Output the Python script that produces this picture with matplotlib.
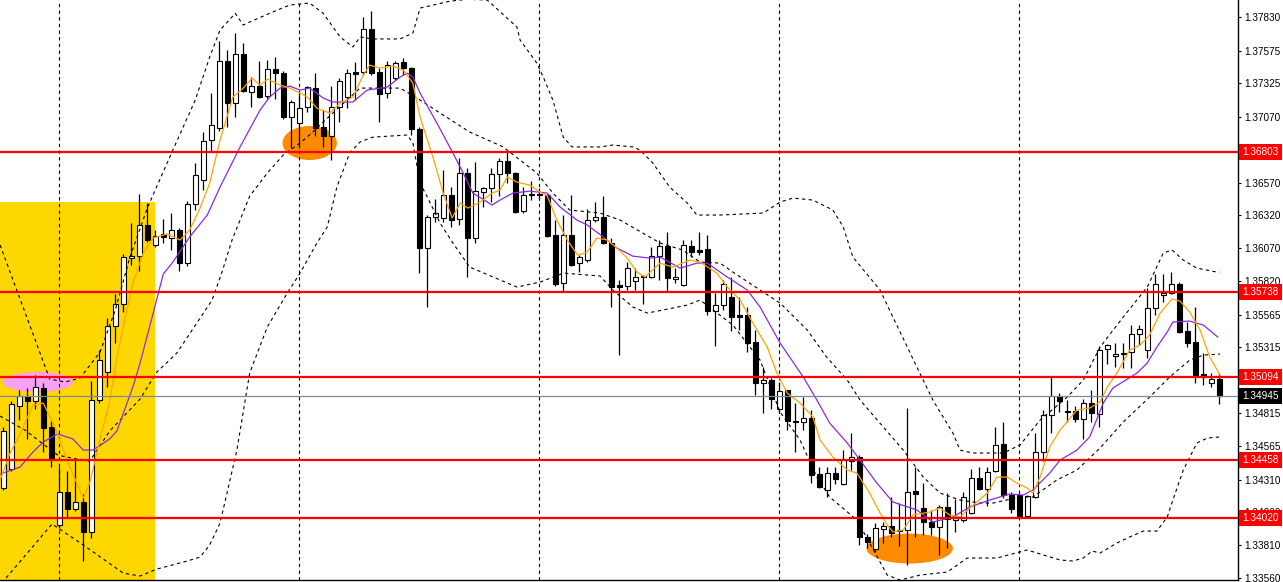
import matplotlib.pyplot as plt
from matplotlib.patches import Rectangle, Ellipse
import numpy as np

plt.rcParams['font.family'] = ['Liberation Sans', 'DejaVu Sans']

# candles (one per bar, oldest first)
opens = [1.34245, 1.34390, 1.34869, 1.34945, 1.34907, 1.35006, 1.34710, 1.33964, 1.34215, 1.34086,
         1.34139, 1.33911, 1.34915, 1.35128, 1.35478, 1.35646, 1.35995, 1.36010, 1.36247, 1.36095,
         1.36179, 1.36148, 1.36209, 1.35957, 1.36407, 1.36589, 1.36894, 1.36985, 1.37494, 1.37175,
         1.37548, 1.37259, 1.37304, 1.37228, 1.37434, 1.37403, 1.37069, 1.37023, 1.37145, 1.37289,
         1.36993, 1.36924, 1.37145, 1.37221, 1.37411, 1.37411, 1.37739, 1.37411, 1.37251, 1.37365,
         1.37487, 1.37441, 1.36977, 1.36072, 1.36308, 1.36301, 1.36475, 1.36293, 1.36642, 1.36148,
         1.36498, 1.36528, 1.36635, 1.36734, 1.36642, 1.36353, 1.36475, 1.36483, 1.36475, 1.36171,
         1.35805, 1.36171, 1.35957, 1.35980, 1.36285, 1.36308, 1.36110, 1.35790, 1.35782, 1.35820,
         1.35859, 1.35851, 1.36010, 1.36087, 1.35836, 1.35790, 1.36087, 1.36057, 1.36065, 1.35592,
         1.35638, 1.35699, 1.35562, 1.35562, 1.35357, 1.35044, 1.35067, 1.34846, 1.34991, 1.34755,
         1.34748, 1.34778, 1.34352, 1.34230, 1.34359, 1.34275, 1.34450, 1.34481, 1.33873, 1.33781,
         1.33934, 1.33957, 1.33918, 1.33926, 1.34222, 1.34093, 1.33987, 1.33949, 1.34101, 1.34002,
         1.34002, 1.34055, 1.34322, 1.34238, 1.34374, 1.34581, 1.34192, 1.34192, 1.34032, 1.34177,
         1.34519, 1.34801, 1.34945, 1.34831, 1.34831, 1.34770, 1.34892, 1.34808, 1.35303, 1.35250,
         1.35273, 1.35280, 1.35417, 1.35295, 1.35615, 1.35714, 1.35729, 1.35797, 1.35440, 1.35357,
         1.35113, 1.35044, 1.35075]
highs = [1.34710, 1.34907, 1.34991, 1.35006, 1.35105, 1.35044, 1.34755, 1.34405, 1.34374, 1.34473,
         1.34200, 1.35059, 1.35295, 1.35539, 1.35722, 1.36026, 1.36262, 1.36483, 1.36414, 1.36209,
         1.36293, 1.36338, 1.36224, 1.36429, 1.36718, 1.36955, 1.37251, 1.37647, 1.37578, 1.37708,
         1.37632, 1.37373, 1.37494, 1.37502, 1.37525, 1.37418, 1.37198, 1.37251, 1.37304, 1.37403,
         1.37122, 1.37304, 1.37365, 1.37434, 1.37487, 1.37830, 1.37875, 1.37441, 1.37494, 1.37494,
         1.37518, 1.37449, 1.36993, 1.36323, 1.36445, 1.36666, 1.36536, 1.36756, 1.36681, 1.36726,
         1.36536, 1.36681, 1.36756, 1.36802, 1.36650, 1.36536, 1.36582, 1.36528, 1.36483, 1.36285,
         1.36323, 1.36475, 1.36018, 1.36369, 1.36422, 1.36467, 1.36148, 1.35828, 1.35965, 1.35919,
         1.35866, 1.36080, 1.36133, 1.36194, 1.35919, 1.36133, 1.36133, 1.36194, 1.36171, 1.35729,
         1.35828, 1.35851, 1.35699, 1.35623, 1.35448, 1.35166, 1.35083, 1.35052, 1.34995, 1.34892,
         1.34938, 1.34839, 1.34405, 1.34405, 1.34405, 1.34534, 1.34664, 1.34496, 1.33896, 1.33979,
         1.33987, 1.34177, 1.34131, 1.34854, 1.34405, 1.34283, 1.34078, 1.34116, 1.34207, 1.34162,
         1.34215, 1.34390, 1.34405, 1.34405, 1.34710, 1.34748, 1.34215, 1.34207, 1.34192, 1.34664,
         1.34839, 1.35090, 1.34968, 1.34915, 1.34869, 1.34923, 1.34991, 1.35326, 1.35341, 1.35349,
         1.35349, 1.35486, 1.35486, 1.35767, 1.35874, 1.35874, 1.35889, 1.35813, 1.35509, 1.35623,
         1.35273, 1.35120, 1.35120]
lows = [1.34230, 1.34374, 1.34763, 1.34619, 1.34846, 1.34519, 1.34405, 1.33941, 1.34025, 1.34070,
        1.33689, 1.33865, 1.34892, 1.35014, 1.35349, 1.35585, 1.35942, 1.35896, 1.36118, 1.36080,
        1.36110, 1.36057, 1.35896, 1.35934, 1.36361, 1.36513, 1.36802, 1.36962, 1.36993, 1.37069,
        1.37260, 1.37145, 1.37215, 1.37206, 1.37206, 1.37054, 1.36833, 1.36833, 1.37107, 1.36924,
        1.36841, 1.36742, 1.37031, 1.37137, 1.37198, 1.37388, 1.37388, 1.37031, 1.37213, 1.37350,
        1.37388, 1.36932, 1.35881, 1.35623, 1.36270, 1.36270, 1.36232, 1.36247, 1.35851, 1.36110,
        1.36384, 1.36422, 1.36467, 1.36566, 1.36338, 1.36338, 1.36437, 1.36437, 1.36156, 1.35782,
        1.35744, 1.35934, 1.35889, 1.35965, 1.36270, 1.36103, 1.35623, 1.35257, 1.35752, 1.35752,
        1.35646, 1.35845, 1.35828, 1.35744, 1.35805, 1.35782, 1.36003, 1.36018, 1.35562, 1.35326,
        1.35600, 1.35440, 1.35448, 1.35280, 1.34953, 1.34816, 1.34846, 1.34816, 1.34687, 1.34519,
        1.34687, 1.34283, 1.34245, 1.34177, 1.34275, 1.34268, 1.34382, 1.33812, 1.33789, 1.33759,
        1.33827, 1.33873, 1.33804, 1.33660, 1.33873, 1.33888, 1.33888, 1.33736, 1.33789, 1.33911,
        1.33987, 1.34048, 1.34230, 1.34109, 1.34367, 1.34169, 1.34055, 1.34017, 1.34025, 1.34169,
        1.34450, 1.34664, 1.34824, 1.34748, 1.34748, 1.34619, 1.34748, 1.34710, 1.35189, 1.35166,
        1.35158, 1.35158, 1.35334, 1.35235, 1.35562, 1.35661, 1.35722, 1.35425, 1.35318, 1.35044,
        1.35029, 1.35014, 1.34885]
closes = [1.34679, 1.34885, 1.34945, 1.34907, 1.35014, 1.34702, 1.34473, 1.34215, 1.34086, 1.34139,
          1.33911, 1.34915, 1.35219, 1.35478, 1.35646, 1.36003, 1.36010, 1.36247, 1.36133, 1.36163,
          1.36156, 1.36209, 1.35957, 1.36407, 1.36627, 1.36886, 1.37008, 1.37494, 1.37175, 1.37548,
          1.37266, 1.37304, 1.37221, 1.37434, 1.37403, 1.37069, 1.37183, 1.37137, 1.37297, 1.36985,
          1.36924, 1.37145, 1.37342, 1.37403, 1.37396, 1.37739, 1.37403, 1.37244, 1.37464, 1.37479,
          1.37441, 1.36977, 1.36072, 1.36308, 1.36338, 1.36475, 1.36285, 1.36642, 1.36148, 1.36505,
          1.36528, 1.36635, 1.36734, 1.36642, 1.36346, 1.36475, 1.36483, 1.36475, 1.36163, 1.35797,
          1.36171, 1.35942, 1.36003, 1.36285, 1.36308, 1.36110, 1.35775, 1.35775, 1.35919, 1.35851,
          1.35851, 1.36010, 1.36087, 1.35843, 1.35851, 1.36095, 1.36041, 1.36041, 1.35592, 1.35638,
          1.35797, 1.35547, 1.35547, 1.35349, 1.35044, 1.35067, 1.34923, 1.34983, 1.34755, 1.34748,
          1.34778, 1.34344, 1.34253, 1.34359, 1.34314, 1.34458, 1.34481, 1.33873, 1.33835, 1.33941,
          1.33957, 1.33903, 1.33926, 1.34215, 1.34200, 1.33987, 1.33949, 1.34101, 1.34010, 1.34017,
          1.34177, 1.34322, 1.34238, 1.34367, 1.34573, 1.34192, 1.34086, 1.34032, 1.34185, 1.34519,
          1.34801, 1.34945, 1.34907, 1.34824, 1.34770, 1.34892, 1.34816, 1.35295, 1.35334, 1.35265,
          1.35265, 1.35417, 1.35455, 1.35615, 1.35797, 1.35729, 1.35797, 1.35432, 1.35349, 1.35105,
          1.35090, 1.35075, 1.34945]

# Bollinger bands (bar position, price)
bb_upper_x = [-0.4, 2.7, 5.8, 7.7, 9.6, 12.1, 14.0, 15.8, 18.0, 21.2, 24.0, 25.8, 27.1, 29.0, 30.0,
              30.5, 33.3, 35.8, 38.3, 40.0, 42.1, 43.7, 44.6, 46.2, 49.6, 51.2, 52.1, 55.8, 58.0,
              60.5, 64.2, 64.6, 66.7, 67.5, 68.7, 70.0, 71.1, 74.6, 76.2, 78.7, 79.6, 81.2, 83.3,
              85.5, 86.7, 89.6, 95.0, 97.1, 98.7, 101.2, 103.7, 105.0, 106.2, 109.6, 111.2, 114.2,
              116.2, 118.7, 119.6, 121.2, 125.0, 127.1, 129.6, 133.0, 135.0, 137.1, 140.0, 143.0,
              145.0, 146.1, 147.5, 149.2, 151.7, 152.0]
bb_upper = [1.36095, 1.35585, 1.35075, 1.35052, 1.35083, 1.35280, 1.35600, 1.35995, 1.36376, 1.36818,
            1.37198, 1.37525, 1.37731, 1.37858, 1.37769, 1.37784, 1.37858, 1.37921, 1.37936, 1.37858,
            1.37678, 1.37602, 1.37678, 1.37663, 1.37663, 1.37708, 1.37898, 1.37950, 1.37965, 1.37959,
            1.37754, 1.37655, 1.37479, 1.37373, 1.37198, 1.36916, 1.36841, 1.36841, 1.36856, 1.36841,
            1.36818, 1.36718, 1.36536, 1.36414, 1.36323, 1.36323, 1.36338, 1.36422, 1.36452, 1.36437,
            1.36361, 1.36232, 1.36003, 1.35752, 1.35547, 1.35166, 1.34915, 1.34664, 1.34534, 1.34512,
            1.34512, 1.34573, 1.34763, 1.34938, 1.35067, 1.35318, 1.35547, 1.35775, 1.36034, 1.36057,
            1.35980, 1.35919, 1.35889, 1.35889]
bb_mid_x = [-0.4, 2.7, 6.8, 9.2, 10.8, 13.3, 17.1, 19.2, 21.7, 26.1, 27.3, 28.6, 30.8, 33.0, 35.0,
            37.1, 38.7, 40.0, 42.0, 44.6, 49.6, 52.1, 54.6, 58.3, 62.5, 66.7, 68.7, 70.8, 74.6, 77.1,
            82.1, 84.9, 87.1, 89.6, 91.2, 94.6, 97.1, 100.5, 102.9, 105.5, 107.1, 110.0, 112.5, 115.0,
            117.1, 119.6, 122.1, 123.7, 127.1, 128.7, 131.7, 134.2, 137.1, 140.0, 143.3, 145.8, 148.3,
            150.0, 152.1]
bb_mid = [1.34793, 1.34687, 1.34496, 1.34466, 1.34450, 1.34679, 1.34923, 1.35128, 1.35273, 1.35676,
          1.35881, 1.36133, 1.36467, 1.36642, 1.36780, 1.36871, 1.36955, 1.37031, 1.37145, 1.37289,
          1.37289, 1.37198, 1.37099, 1.36955, 1.36841, 1.36642, 1.36490, 1.36361, 1.36338, 1.36285,
          1.36110, 1.36057, 1.35965, 1.35957, 1.35889, 1.35752, 1.35653, 1.35448, 1.35243, 1.35067,
          1.34915, 1.34710, 1.34534, 1.34329, 1.34207, 1.34154, 1.34131, 1.34131, 1.34177, 1.34177,
          1.34307, 1.34382, 1.34550, 1.34748, 1.34938, 1.35090, 1.35219, 1.35257, 1.35265]
bb_lower_x = [-0.4, 6.1, 10.0, 15.0, 17.1, 19.2, 23.0, 24.6, 25.8, 27.1, 29.2, 30.8, 33.0, 35.5,
              37.1, 39.2, 40.5, 41.7, 43.3, 44.6, 46.2, 50.5, 51.2, 52.1, 53.0, 54.6, 56.2, 58.3,
              64.2, 67.1, 70.0, 74.6, 76.2, 78.7, 80.5, 83.7, 85.5, 87.1, 91.2, 94.6, 97.1, 99.6,
              101.7, 103.3, 106.7, 108.3, 110.5, 112.1, 114.6, 118.0, 120.5, 124.2, 128.0, 130.0,
              132.1, 133.7, 135.0, 136.1, 137.1, 139.2, 140.8, 142.5, 144.2, 145.5, 146.2, 147.5,
              149.2, 150.5, 152.1]
bb_lower = [1.33507, 1.33972, 1.33812, 1.33598, 1.33576, 1.33629, 1.33690, 1.33720, 1.33812, 1.33979,
            1.34534, 1.35120, 1.35471, 1.35729, 1.35881, 1.36110, 1.36232, 1.36536, 1.36795, 1.36879,
            1.36916, 1.36932, 1.36871, 1.36566, 1.36460, 1.36262, 1.36110, 1.35927, 1.35775, 1.35813,
            1.35881, 1.35859, 1.35752, 1.35623, 1.35577, 1.35615, 1.35638, 1.35676, 1.35486, 1.35219,
            1.34824, 1.34611, 1.34329, 1.34177, 1.34002, 1.33827, 1.33583, 1.33545, 1.33583, 1.33606,
            1.33713, 1.33713, 1.33774, 1.33736, 1.33698, 1.33690, 1.33713, 1.33766, 1.33751, 1.33827,
            1.33873, 1.33918, 1.33918, 1.34025, 1.34154, 1.34382, 1.34588, 1.34626, 1.34634]

# moving averages
ma_fast_x = [-0.4, 0.8, 2.1, 3.7, 5.0, 6.5, 8.0, 10.0, 10.8, 12.1, 13.3, 14.2, 15.0, 16.2, 17.5,
             18.7, 20.5, 22.1, 23.3, 24.6, 25.8, 27.1, 28.7, 30.0, 31.1, 32.1, 33.1, 34.6, 35.8,
             37.1, 38.0, 39.2, 40.8, 42.1, 43.7, 45.0, 45.8, 47.1, 48.7, 50.0, 51.2, 52.1, 53.7,
             55.0, 56.1, 57.1, 58.1, 59.6, 61.1, 62.1, 63.0, 64.2, 65.8, 67.1, 68.0, 69.2, 70.5,
             71.8, 73.0, 74.2, 75.5, 76.7, 78.0, 79.2, 80.2, 82.1, 83.7, 85.8, 87.1, 89.2, 90.5,
             92.1, 93.7, 95.5, 96.7, 98.0, 99.6, 101.2, 102.1, 103.7, 105.5, 106.7, 108.3, 109.6,
             110.5, 111.2, 112.5, 113.7, 115.8, 117.1, 118.3, 119.6, 120.8, 123.0, 124.2, 125.5,
             126.7, 128.0, 128.7, 129.6, 130.8, 132.1, 134.2, 135.8, 137.1, 138.0, 139.2, 140.8,
             142.1, 143.3, 144.6, 146.1, 147.1, 148.3, 149.6, 150.8, 152.1]
ma_fast = [1.34306, 1.34504, 1.34657, 1.34877, 1.34892, 1.34702, 1.34450, 1.34169, 1.34283, 1.34619,
           1.34907, 1.35243, 1.35471, 1.35805, 1.36034, 1.36148, 1.36179, 1.36133, 1.36209, 1.36376,
           1.36566, 1.36894, 1.37221, 1.37289, 1.37365, 1.37312, 1.37358, 1.37312, 1.37289, 1.37251,
           1.37221, 1.37137, 1.37099, 1.37175, 1.37221, 1.37388, 1.37464, 1.37441, 1.37457, 1.37426,
           1.37327, 1.37069, 1.36764, 1.36490, 1.36301, 1.36414, 1.36376, 1.36422, 1.36490, 1.36513,
           1.36612, 1.36574, 1.36551, 1.36498, 1.36467, 1.36285, 1.36133, 1.36018, 1.36041, 1.36148,
           1.36133, 1.36072, 1.35995, 1.35889, 1.35851, 1.35957, 1.35927, 1.35980, 1.35965, 1.35881,
           1.35775, 1.35676, 1.35501, 1.35318, 1.35120, 1.34968, 1.34892, 1.34786, 1.34611, 1.34481,
           1.34382, 1.34359, 1.34207, 1.34055, 1.33964, 1.33911, 1.33926, 1.34040, 1.34063, 1.34093,
           1.34040, 1.34025, 1.34093, 1.34207, 1.34329, 1.34329, 1.34283, 1.34245, 1.34207, 1.34329,
           1.34557, 1.34687, 1.34839, 1.34854, 1.34900, 1.35014, 1.35120, 1.35295, 1.35334, 1.35410,
           1.35577, 1.35684, 1.35668, 1.35585, 1.35448, 1.35243, 1.35105]
ma_slow_x = [-0.4, 2.1, 3.7, 5.0, 6.8, 8.7, 10.0, 11.2, 13.3, 14.2, 16.2, 17.1, 19.0, 20.0, 21.2,
             23.3, 25.5, 27.1, 29.6, 32.1, 33.3, 34.6, 35.8, 37.1, 38.3, 40.0, 41.2, 43.7, 45.5,
             48.0, 49.6, 50.5, 51.2, 52.1, 54.2, 56.2, 57.5, 58.7, 61.1, 62.1, 63.7, 65.8, 68.0,
             69.6, 71.7, 73.0, 75.0, 76.7, 78.7, 80.8, 82.1, 84.6, 86.7, 88.0, 90.5, 93.0, 94.6,
             97.1, 100.0, 101.7, 103.3, 105.5, 107.1, 109.2, 111.2, 114.2, 116.2, 118.7, 120.8,
             123.3, 125.8, 127.5, 128.7, 130.8, 132.1, 134.2, 135.8, 137.5, 138.7, 141.7, 143.0,
             144.2, 145.5, 146.2, 148.3, 150.0, 151.8]
ma_slow = [1.34352, 1.34405, 1.34519, 1.34596, 1.34657, 1.34619, 1.34534, 1.34534, 1.34619, 1.34679,
           1.35014, 1.35197, 1.35638, 1.35874, 1.35965, 1.36156, 1.36323, 1.36536, 1.36841, 1.37122,
           1.37221, 1.37289, 1.37304, 1.37274, 1.37289, 1.37213, 1.37183, 1.37183, 1.37274, 1.37297,
           1.37373, 1.37403, 1.37373, 1.37251, 1.37023, 1.36795, 1.36642, 1.36490, 1.36399, 1.36437,
           1.36490, 1.36505, 1.36490, 1.36384, 1.36285, 1.36247, 1.36156, 1.36072, 1.36010, 1.35995,
           1.36003, 1.35919, 1.35957, 1.35957, 1.35851, 1.35752, 1.35623, 1.35349, 1.35090, 1.34915,
           1.34740, 1.34588, 1.34458, 1.34283, 1.34139, 1.34078, 1.33987, 1.34025, 1.34101, 1.34154,
           1.34200, 1.34192, 1.34230, 1.34359, 1.34458, 1.34534, 1.34634, 1.34892, 1.35006, 1.35120,
           1.35197, 1.35318, 1.35433, 1.35509, 1.35516, 1.35486, 1.35395]

levels = [1.36803, 1.35738, 1.35094, 1.34458, 1.34020]
last_price = 1.34945
period_bars = [7, 37, 67, 97, 127]
tick_prices = [1.37830, 1.37575, 1.37325, 1.37070, 1.36825, 1.36570, 1.36320, 1.36070, 1.35820,
               1.35565, 1.35315, 1.35060, 1.34815, 1.34565, 1.34310, 1.34060, 1.33810, 1.33560]

# highlighted zone and marks: (bar, price, width in bars, height in price)
zone_last_bar = 18.96
zone_top = 1.36422
pink_mark = (4.3, 1.35052, 8.8, 0.00152)
orange_marks = [(38.3, 1.36871, 6.8, 0.00259), (113.3, 1.33785, 10.8, 0.00228)]

y_top, y_bot = 1.379594, 1.335456

fig = plt.figure(figsize=(12.83, 5.82), dpi=100)
ax = fig.add_axes([0, 2 / 582, 1238 / 1283, 580 / 582])
ax.set_xlim(-0.41, 154.34)
ax.set_ylim(y_bot, y_top)

ax.add_patch(Rectangle((-1, y_bot - 0.001), zone_last_bar + 1, zone_top - y_bot + 0.001,
                       facecolor='#FFD700', edgecolor='none', zorder=0))
ax.add_patch(Ellipse(pink_mark[:2], pink_mark[2], pink_mark[3], facecolor='#F7A1F2',
                     edgecolor='none', zorder=1))
for bx, py, w, hgt in orange_marks:
    ax.add_patch(Ellipse((bx, py), w, hgt, facecolor='#FF8C00', edgecolor='none', zorder=1))

for b in period_bars:
    ax.axvline(b, color='black', lw=0.8, dashes=(3, 3), zorder=2)

o = np.array(opens)
h = np.array(highs)
l = np.array(lows)
c = np.array(closes)
idx = np.arange(len(o))
up = c >= o
lo = np.minimum(o, c)
ht = np.abs(c - o)

ax.vlines(idx, l, h, color='black', lw=0.9, zorder=4)
ax.bar(idx[up], ht[up], bottom=lo[up], width=0.56, facecolor='white', edgecolor='black',
       lw=0.8, zorder=5)
ax.bar(idx[~up], ht[~up], bottom=lo[~up], width=0.56, facecolor='black', edgecolor='black',
       lw=0.8, zorder=5)

for xs, ys in [(bb_upper_x, bb_upper), (bb_mid_x, bb_mid), (bb_lower_x, bb_lower)]:
    ax.plot(xs, ys, color='black', lw=0.8, dashes=(3, 3), zorder=7)
ax.plot(ma_slow_x, ma_slow, color='#8A2BE2', lw=0.9, zorder=7)
ax.plot(ma_fast_x, ma_fast, color='#FFA500', lw=0.9, zorder=7)

for p in levels:
    ax.axhline(p, color='red', lw=1.6, zorder=8)
ax.axhline(last_price, color='#7A8A99', lw=0.9, zorder=8)

ax.yaxis.tick_right()
ax.set_yticks(tick_prices)
ax.set_yticklabels([f'{t:.5f}' for t in tick_prices])
ax.tick_params(axis='y', direction='out', length=2.5, width=0.8, pad=2, labelsize=7.2)
ax.set_xticks([])
for side in ['left', 'top']:
    ax.spines[side].set_visible(False)
for side in ['right', 'bottom']:
    ax.spines[side].set_linewidth(1.0)

for p, bg in [(q, 'red') for q in levels] + [(last_price, 'black')]:
    ax.annotate(f'{p:.5f}', xy=(1, p), xycoords=('axes fraction', 'data'), xytext=(3.2, 0),
                textcoords='offset points', ha='left', va='center', fontsize=7.2, color='white',
                bbox=dict(boxstyle='square,pad=0.3', facecolor=bg, edgecolor='none'),
                zorder=10, annotation_clip=False)

fig.savefig('out.png', dpi=100)
